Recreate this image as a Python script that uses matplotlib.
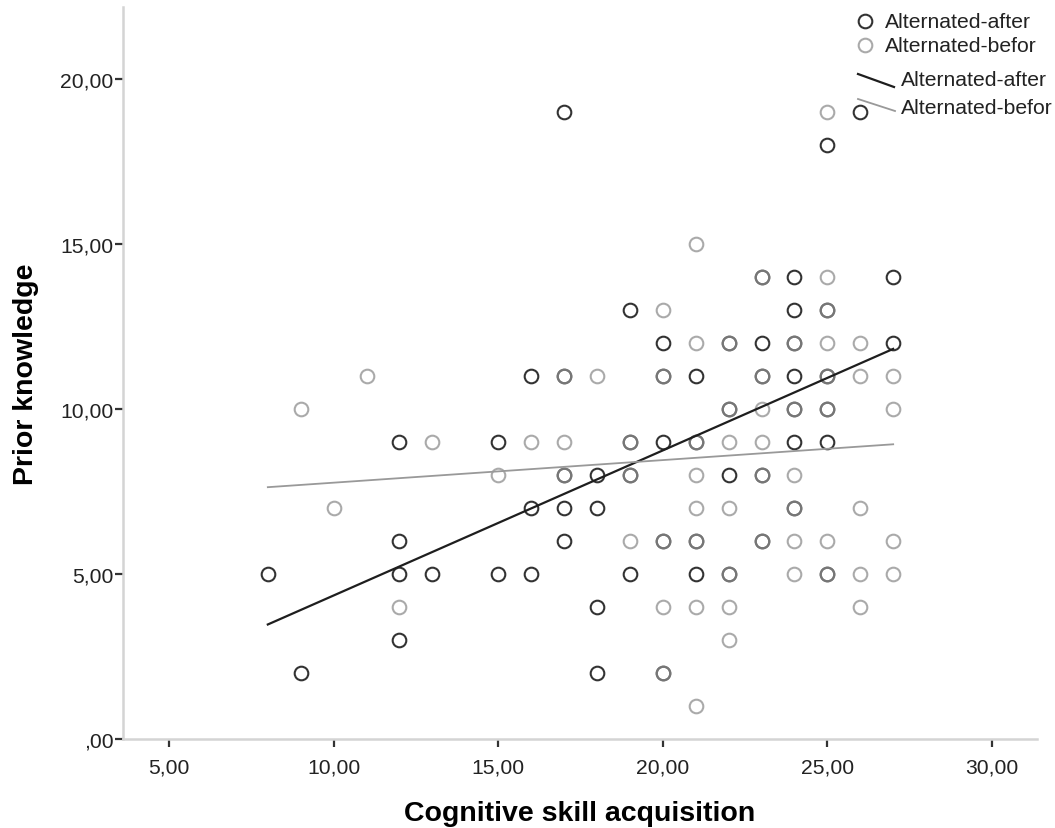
import numpy as np
import matplotlib
matplotlib.use("Agg")
import matplotlib.pyplot as plt
from matplotlib.lines import Line2D
from matplotlib.ticker import FuncFormatter

plt.rcParams['font.family'] = ['Liberation Sans', 'DejaVu Sans']

# points (cognitive skill, prior knowledge)
after_x = [17, 26, 25, 24, 27, 23, 19, 24, 25, 20, 23, 27, 22, 24,
           16, 21, 24, 17, 20, 23, 25, 22, 24, 25,
           12, 15, 20, 24, 25, 19, 21, 18, 22, 17, 19, 23,
           16, 17, 18, 24, 12, 17, 20, 21, 23,
           8, 12, 13, 15, 16, 19, 21, 22, 25, 18, 12, 9, 18, 20]
after_y = [19, 19, 18, 14, 14, 14, 13, 13, 13, 12, 12, 12, 12, 12,
           11, 11, 11, 11, 11, 11, 11, 10, 10, 10,
           9, 9, 9, 9, 9, 9, 9, 8, 8, 8, 8, 8,
           7, 7, 7, 7, 6, 6, 6, 6, 6,
           5, 5, 5, 5, 5, 5, 5, 5, 5, 4, 3, 2, 2, 2]

before_x = [25, 21, 25, 23, 20, 25, 21, 25, 26, 22, 24,
            11, 18, 26, 27, 17, 20, 23, 25, 9, 23, 27, 22, 24, 25,
            13, 16, 17, 22, 23, 19, 21, 15, 21, 24, 17, 19, 23,
            10, 21, 22, 26, 24, 19, 24, 25, 27, 20, 21, 23,
            24, 26, 27, 22, 25, 12, 20, 21, 22, 26, 22, 20, 21]
before_y = [19, 15, 14, 14, 13, 13, 12, 12, 12, 12, 12,
            11, 11, 11, 11, 11, 11, 11, 11, 10, 10, 10, 10, 10, 10,
            9, 9, 9, 9, 9, 9, 9, 8, 8, 8, 8, 8, 8,
            7, 7, 7, 7, 7, 6, 6, 6, 6, 6, 6, 6,
            5, 5, 5, 5, 5, 4, 4, 4, 4, 4, 3, 2, 1]

# fit lines as drawn (end points)
fit_x = [8, 27]
after_fit = [3.47, 11.82]
before_fit = [7.63, 8.93]

W, H = 1055, 829
fig = plt.figure(figsize=(W / 100, H / 100), dpi=100)
ax = fig.add_axes([123 / W, 1 - 740 / H, (1037 - 123) / W, (740 - 8) / H])

dark = '#333333'
light = '#8e8e8e'

ax.plot(after_x, after_y, 'o', ms=9.8, mfc='none', mec=dark, mew=1.5, zorder=3)
ax.plot(before_x, before_y, 'o', ms=9.8, mfc='none', mec=light, mew=1.5,
        alpha=0.75, zorder=4)
ax.plot(fit_x, after_fit, color='#1e1e1e', lw=1.6, zorder=5)
ax.plot(fit_x, before_fit, color='#999999', lw=1.3, zorder=5)

ax.set_xlim(3.6, 31.37)
ax.set_ylim(0, 22.18)
ax.set_xticks([5, 10, 15, 20, 25, 30])
ax.set_yticks([0, 5, 10, 15, 20])


def comma_fmt(v, pos):
    s = '%.2f' % v
    s = s.replace('.', ',')
    if s.startswith('0,'):
        s = s[1:]
    return s


ax.xaxis.set_major_formatter(FuncFormatter(comma_fmt))
ax.yaxis.set_major_formatter(FuncFormatter(comma_fmt))

for side in ['top', 'right']:
    ax.spines[side].set_visible(False)
for side in ['left', 'bottom']:
    ax.spines[side].set_color('#d4d4d4')
    ax.spines[side].set_linewidth(1.8)
ax.tick_params(direction='out', length=6, width=1.6, color='#333333',
               labelsize=15.2, labelcolor='#222222', pad=1)
ax.tick_params(axis='x', pad=7)

ax.set_xlabel('Cognitive skill acquisition', fontsize=20.5, fontweight='bold', labelpad=17)
ax.set_ylabel('Prior knowledge', fontsize=20.5, fontweight='bold', labelpad=15)


# legend drawn by hand in pixel positions
def px(x, y):
    return x / W, 1 - y / H


fig.add_artist(Line2D(*zip(px(865, 22)), marker='o', ms=9.8, mfc='none',
                      mec=dark, mew=1.5, transform=fig.transFigure))
fig.add_artist(Line2D(*zip(px(865, 46)), marker='o', ms=9.8, mfc='none',
                      mec='#aaaaaa', mew=1.5, transform=fig.transFigure))
fig.add_artist(Line2D(*zip(px(858, 75), px(894, 88)), color='#1e1e1e', lw=1.6,
                      transform=fig.transFigure))
fig.add_artist(Line2D(*zip(px(858, 100), px(895, 112)), color='#999999', lw=1.3,
                      transform=fig.transFigure))
labels = ['Alternated-after', 'Alternated-befor', 'Alternated-after', 'Alternated-befor']
for (lx, ly), lab in zip([(885, 22), (885, 46), (901, 80), (901, 108)], labels):
    fig.text(*px(lx, ly), lab, fontsize=15.2, color='#222222', va='center', ha='left')

fig.savefig('out.png', dpi=100)
